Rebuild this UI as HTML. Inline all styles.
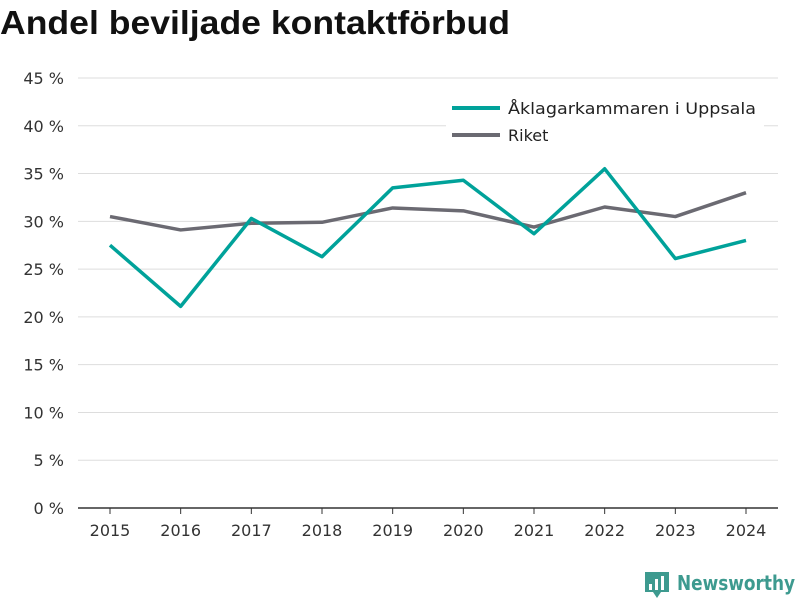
<!DOCTYPE html>
<html><head><meta charset="utf-8"><style>
body{margin:0;background:#fff;}
svg text{font-family:"DejaVu Sans","Liberation Sans",sans-serif;}
</style></head><body>
<svg id="chart" width="800" height="600" xmlns="http://www.w3.org/2000/svg">
<text x="0" y="34" font-size="33" font-weight="bold" fill="#111" style="font-family:'Liberation Sans',sans-serif" textLength="510" lengthAdjust="spacingAndGlyphs">Andel beviljade kontaktförbud</text>
<g id="grid"></g><g id="xaxis"></g><g id="series"></g>
<g>
<rect x="446" y="92" width="318" height="62" fill="#fff"/>
<line x1="452" y1="108" x2="500" y2="108" stroke="#00a29a" stroke-width="4"/>
<text x="508" y="114" font-size="16" fill="#222" textLength="248" lengthAdjust="spacingAndGlyphs">Åklagarkammaren i Uppsala</text>
<line x1="452" y1="135" x2="500" y2="135" stroke="#6b6a72" stroke-width="4"/>
<text x="508" y="141" font-size="16" fill="#222">Riket</text>
</g>
<g>
<path d="M645 572 h24 v20 h-8 l-4 6 l-4 -6 h-8 z" fill="#3d9a8f"/>
<rect x="649" y="584" width="3" height="6" fill="#fff"/><rect x="655" y="579" width="3" height="11" fill="#fff"/><rect x="661" y="576" width="3" height="14" fill="#fff"/>
<text x="677" y="590" font-size="20" font-weight="bold" fill="#3d9a8f" textLength="118" lengthAdjust="spacingAndGlyphs">Newsworthy</text>
</g>
</svg>
<script>
const years=[2015,2016,2017,2018,2019,2020,2021,2022,2023,2024];
const uppsala=[27.5,21.1,30.3,26.3,33.5,34.3,28.7,35.5,26.1,28.0];
const riket=[30.5,29.1,29.8,29.9,31.4,31.1,29.4,31.5,30.5,33.0];
const yTicks=[0,5,10,15,20,25,30,35,40,45];
const NS="http://www.w3.org/2000/svg";
const x=i=>110+i*(746-110)/(years.length-1);
const y=v=>508-v*(430/45);
function mk(t,a,p){const e=document.createElementNS(NS,t);for(const k in a)e.setAttribute(k,a[k]);p.appendChild(e);return e;}
const grid=document.getElementById('grid');
yTicks.forEach(v=>{
 if(v>0){const l=mk('line',{x1:78,x2:778,y1:y(v),y2:y(v),stroke:'#ddd','stroke-width':1},grid);
 
 }
 const t=mk('text',{x:64,y:y(v)+6,'font-size':16,fill:'#333','text-anchor':'end'},grid);
 t.textContent=v+' %';
 
 
});
const xa=document.getElementById('xaxis');
const ax=mk('line',{x1:78,x2:778,y1:508,y2:508,stroke:'#333','stroke-width':1.5},xa);


years.forEach((yr,i)=>{
 mk('line',{x1:x(i),x2:x(i),y1:508,y2:514,stroke:'#333'},xa);
 const t=mk('text',{x:x(i),y:536,'font-size':16,fill:'#333','text-anchor':'middle'},xa);
 t.textContent=yr;
 
 
});
const s=document.getElementById('series');
[[riket,'#6b6a72','line-riket'],[uppsala,'#00a29a','line-uppsala']].forEach(([d,c,n])=>{
 const p=mk('polyline',{points:d.map((v,i)=>x(i)+','+y(v)).join(' '),fill:'none',stroke:c,'stroke-width':3.5,'stroke-linejoin':'round'},s);
 
 
});
</script>
</body></html>
